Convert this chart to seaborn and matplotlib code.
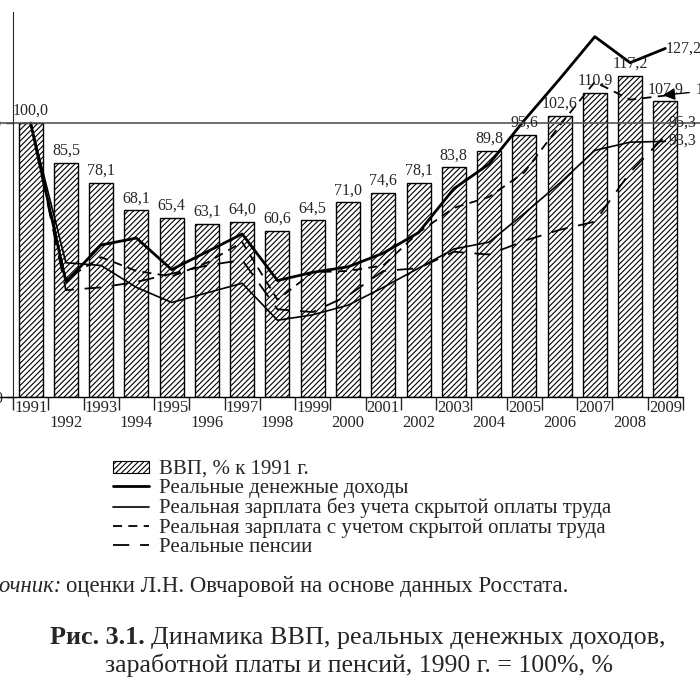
import numpy as np
import pandas as pd
import seaborn as sns
import matplotlib.pyplot as plt
from matplotlib.patches import Patch
from matplotlib.lines import Line2D

years = list(range(1991, 2010))
gdp = [100.0, 85.5, 78.1, 68.1, 65.4, 63.1, 64.0, 60.6, 64.5, 71.0,
       74.6, 78.1, 83.8, 89.8, 95.6, 102.6, 110.9, 117.2, 107.9]
income = [100, 42, 55.5, 58, 46.5, 53, 59.5, 42.5, 45.5, 47.5,
          52.5, 60, 76, 85, 101, 116, 131.5, 122, 127.2]
wages = [100, 49, 48, 40, 34.5, 38, 41.5, 28, 30, 33.5,
         40, 47, 54, 56.5, 67, 78, 90, 93, 93.3]
wages_hidden = [100, 43, 51, 46, 44, 49, 56.5, 35.5, 45.5, 46,
                48, 60, 69, 73, 82, 99, 115, 108.5, 110]
pensions = [100, 39, 40, 42, 45, 48, 50, 32, 31, 37,
            46, 47, 53, 52, 57, 61, 64, 82, 95.3]

labels = ["ВВП, % к 1991 г.",
          "Реальные денежные доходы",
          "Реальная зарплата без учета скрытой оплаты труда",
          "Реальная зарплата с учетом скрытой оплаты труда",
          "Реальные пенсии"]

sns.set_style("ticks")
plt.rcParams['font.family'] = ['Liberation Serif', 'DejaVu Serif']
plt.rcParams['hatch.linewidth'] = 0.8

df = pd.DataFrame({"pos": np.arange(len(years)), "year": [str(y) for y in years],
                   "gdp": gdp, "income": income, "wages": wages,
                   "wages_hidden": wages_hidden, "pensions": pensions})

fig = plt.figure(figsize=(7, 7), dpi=100)
ax = fig.add_axes([13 / 700, 1 - 397 / 700, 670 / 700, 385 / 700])

sns.barplot(data=df, x="pos", y="gdp", color="white", saturation=1,
            edgecolor="black", linewidth=1.0, hatch="//////", width=0.68,
            native_scale=True, ax=ax)

styles = {
    "income": dict(lw=2.0, ls="-"),
    "wages": dict(lw=1.2, ls="-"),
    "wages_hidden": dict(lw=1.3, ls=(0, (5, 3.5))),
    "pensions": dict(lw=1.3, ls=(0, (9, 6))),
}
for col, st in styles.items():
    sns.lineplot(data=df, x="pos", y=col, color="black", linewidth=st["lw"],
                 linestyle=st["ls"], ax=ax)

for i, v in enumerate(gdp):
    ax.text(i, v + 1.5, f"{v:.1f}".replace(".", ","), ha="center", va="bottom",
            fontsize=11.5)

# end labels on the right, partly cut by the page edge
n = len(years) - 1
ax.text(n + 0.02, income[-1], "127,2", ha="left", va="center", fontsize=11.5)
ax.text(n + 0.1, 100, "95,3", ha="left", va="center", fontsize=11.5)
ax.text(n + 0.1, 93.5, "93,3", ha="left", va="center", fontsize=11.5)
ax.annotate("110,0", xy=(n - 0.15, wages_hidden[-1]), xytext=(n + 0.85, 112),
            ha="left", va="center", fontsize=11.5, annotation_clip=False,
            arrowprops=dict(arrowstyle="-|>", color="black", lw=1.0,
                            mutation_scale=18))

ax.axhline(100, xmin=-0.05, xmax=1.1, color="#555555", lw=1.2, clip_on=False)
ax.axhline(0, xmin=-0.05, xmax=1.0, color="black", lw=1.0, clip_on=False)

ax.set_xlim(-0.5, n + 0.5)
ax.set_ylim(0, 140.5)
ax.set_yticks([0, 100])
ax.set_yticklabels(["0", "100"], fontsize=11.5)
ax.tick_params(axis="y", length=5, pad=3, width=1)
ax.set_xticks(range(len(years)))
ax.set_xticklabels([str(y) if y % 2 else "\n" + str(y) for y in years],
                   fontsize=12, linespacing=0.95)
ax.tick_params(axis="x", which="major", length=0, pad=2)
ax.set_xticks(np.arange(-0.5, n + 1, 1.0), minor=True)
ax.tick_params(axis="x", which="minor", length=9, width=1)
ax.set_xlabel("")
ax.set_ylabel("")
for side in ["top", "right", "bottom"]:
    ax.spines[side].set_visible(False)

handles = [Patch(facecolor="white", edgecolor="black", hatch="//////", lw=0.8),
           Line2D([], [], color="black", lw=2.0),
           Line2D([], [], color="black", lw=1.2),
           Line2D([], [], color="black", lw=1.3, ls=(0, (5, 3.5))),
           Line2D([], [], color="black", lw=1.3, ls=(0, (9, 6)))]
fig.legend(handles, labels, loc="upper left", bbox_to_anchor=(113 / 700, 1 - 460 / 700),
           frameon=False, fontsize=15, labelspacing=0.0, handlelength=1.75,
           handleheight=0.5, handletextpad=0.47, borderpad=0, borderaxespad=0)

fig.text(62 / 700, 1 - 592 / 700, "Источник:", ha="right", va="baseline",
         fontsize=16.4, style="italic")
fig.text(66 / 700, 1 - 592 / 700, "оценки Л.Н. Овчаровой на основе данных Росстата.",
         ha="left", va="baseline", fontsize=16.4)

fig.text(145 / 700, 1 - 644 / 700, "Рис. 3.1.", ha="right", va="baseline",
         fontsize=18.8, fontweight="bold")
fig.text(151 / 700, 1 - 644 / 700, "Динамика ВВП, реальных денежных доходов,",
         ha="left", va="baseline", fontsize=18.8)
fig.text(359 / 700, 1 - 672 / 700, "заработной платы и пенсий, 1990 г. = 100%, %",
         ha="center", va="baseline", fontsize=18.5)

fig.savefig("out.png", dpi=100)
